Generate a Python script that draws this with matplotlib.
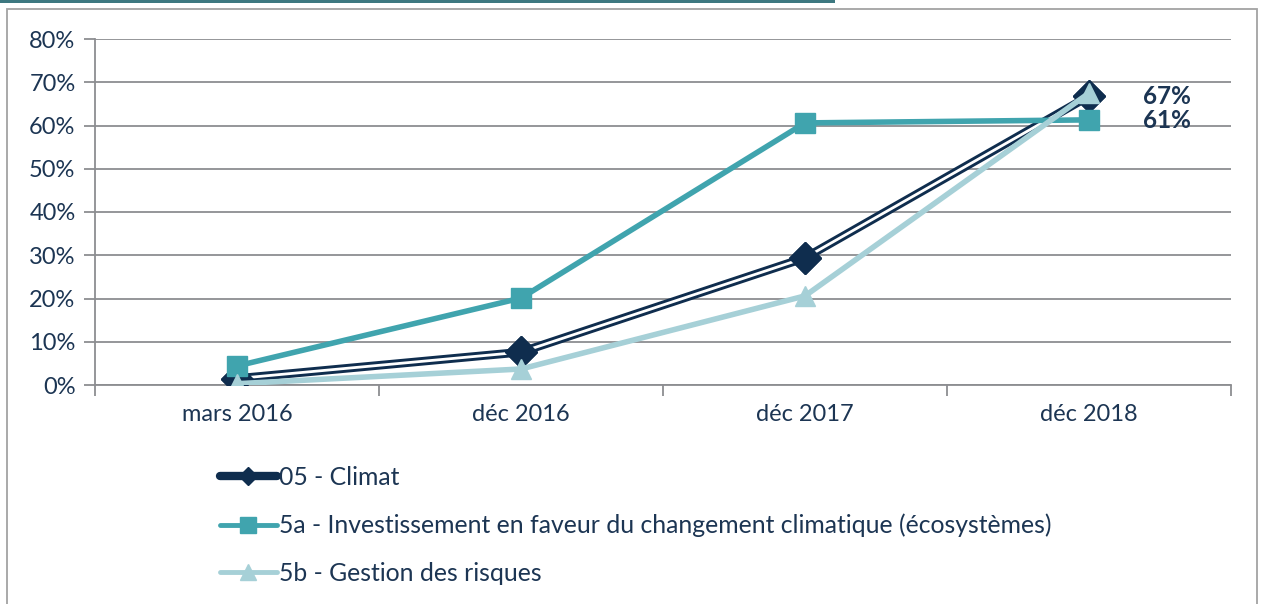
import matplotlib.pyplot as plt
from matplotlib.lines import Line2D
from matplotlib.patches import Rectangle

plt.rcParams['font.family'] = ['Lato', 'DejaVu Sans']

dates = ["mars 2016", "déc 2016", "déc 2017", "déc 2018"]
climat = [1.5, 7.6, 29.4, 66.8]
invest = [4.4, 20.1, 60.6, 61.3]
risques = [0.3, 3.7, 20.6, 67.5]
labels = ["05 - Climat",
          "5a - Investissement en faveur du changement climatique (écosystèmes)",
          "5b - Gestion des risques"]

navy = '#0f2d4e'
teal = '#40a4ae'
light = '#a6d0d7'
txt = '#1c3553'
grid = '#8c8d91'

fig = plt.figure(figsize=(12.64, 6.04), dpi=100)
ax = fig.add_axes([95 / 1264, 1 - 385 / 604, 1136 / 1264, 346 / 604])

x = range(len(dates))
# climat : trait double (bleu foncé avec filet blanc au centre)
ax.plot(x, climat, color=navy, lw=6.2, marker='D', ms=16, zorder=3)
ax.plot(x, climat, color='white', lw=2.0, zorder=3.1)
ax.plot(x, climat, ls='none', color=navy, marker='D', ms=16, zorder=3.2)
ax.plot(x, invest, color=teal, lw=4.0, marker='s', ms=14, zorder=4)
ax.plot(x, risques, color=light, lw=4.0, marker='^', ms=15, zorder=5)

ax.text(3.19, climat[-1], "67%", color=txt, fontsize=17.5, fontweight='bold',
        va='center', ha='left')
ax.text(3.19, invest[-1] - 0.2, "61%", color=txt, fontsize=17.5, fontweight='bold',
        va='center', ha='left')

ax.set_xlim(-0.5, 3.5)
ax.set_ylim(0, 80)
ax.set_yticks(range(0, 81, 10))
ax.set_yticklabels([f"{v}%" for v in range(0, 81, 10)])
ax.set_xticks(list(x))
ax.set_xticklabels(dates)
ax.set_xticks([-0.5, 0.5, 1.5, 2.5, 3.5], minor=True)
ax.tick_params(axis='x', which='major', length=0, pad=14, labelsize=17, labelcolor=txt)
ax.tick_params(axis='x', which='minor', length=8, color=grid, width=1.3)
ax.tick_params(axis='y', length=8, color=grid, width=1.3, labelsize=17,
               labelcolor=txt, pad=6)
ax.grid(axis='y', color=grid, lw=1.3)
for s in ['top', 'right']:
    ax.spines[s].set_visible(False)
for s in ['left', 'bottom']:
    ax.spines[s].set_color(grid)
    ax.spines[s].set_linewidth(1.3)
ax.set_axisbelow(True)

handles = [
    Line2D([], [], color=navy, lw=6, marker='D', ms=9, solid_capstyle='round'),
    Line2D([], [], color=teal, lw=3.5, marker='s', ms=12, solid_capstyle='round'),
    Line2D([], [], color=light, lw=3.5, marker='^', ms=12, solid_capstyle='round'),
]
leg = fig.legend(handles, labels, loc='upper left', bbox_to_anchor=(220 / 1264, 1 - 466 / 604),
                 frameon=False, fontsize=17.8, handlelength=2.3, handletextpad=0.1,
                 labelspacing=1.0, borderaxespad=0, borderpad=0)
for t in leg.get_texts():
    t.set_color(txt)

fig.patches.append(Rectangle((7 / 1264, -0.01), 1250 / 1264, 1 - 9 / 604 + 0.01,
                             transform=fig.transFigure, fill=False,
                             edgecolor='#a3a3a3', lw=1.3))
fig.patches.append(Rectangle((0, 1 - 3 / 604), 835 / 1264, 3 / 604,
                             transform=fig.transFigure, color='#3d7880', lw=0))

fig.savefig('out.png', dpi=100)
